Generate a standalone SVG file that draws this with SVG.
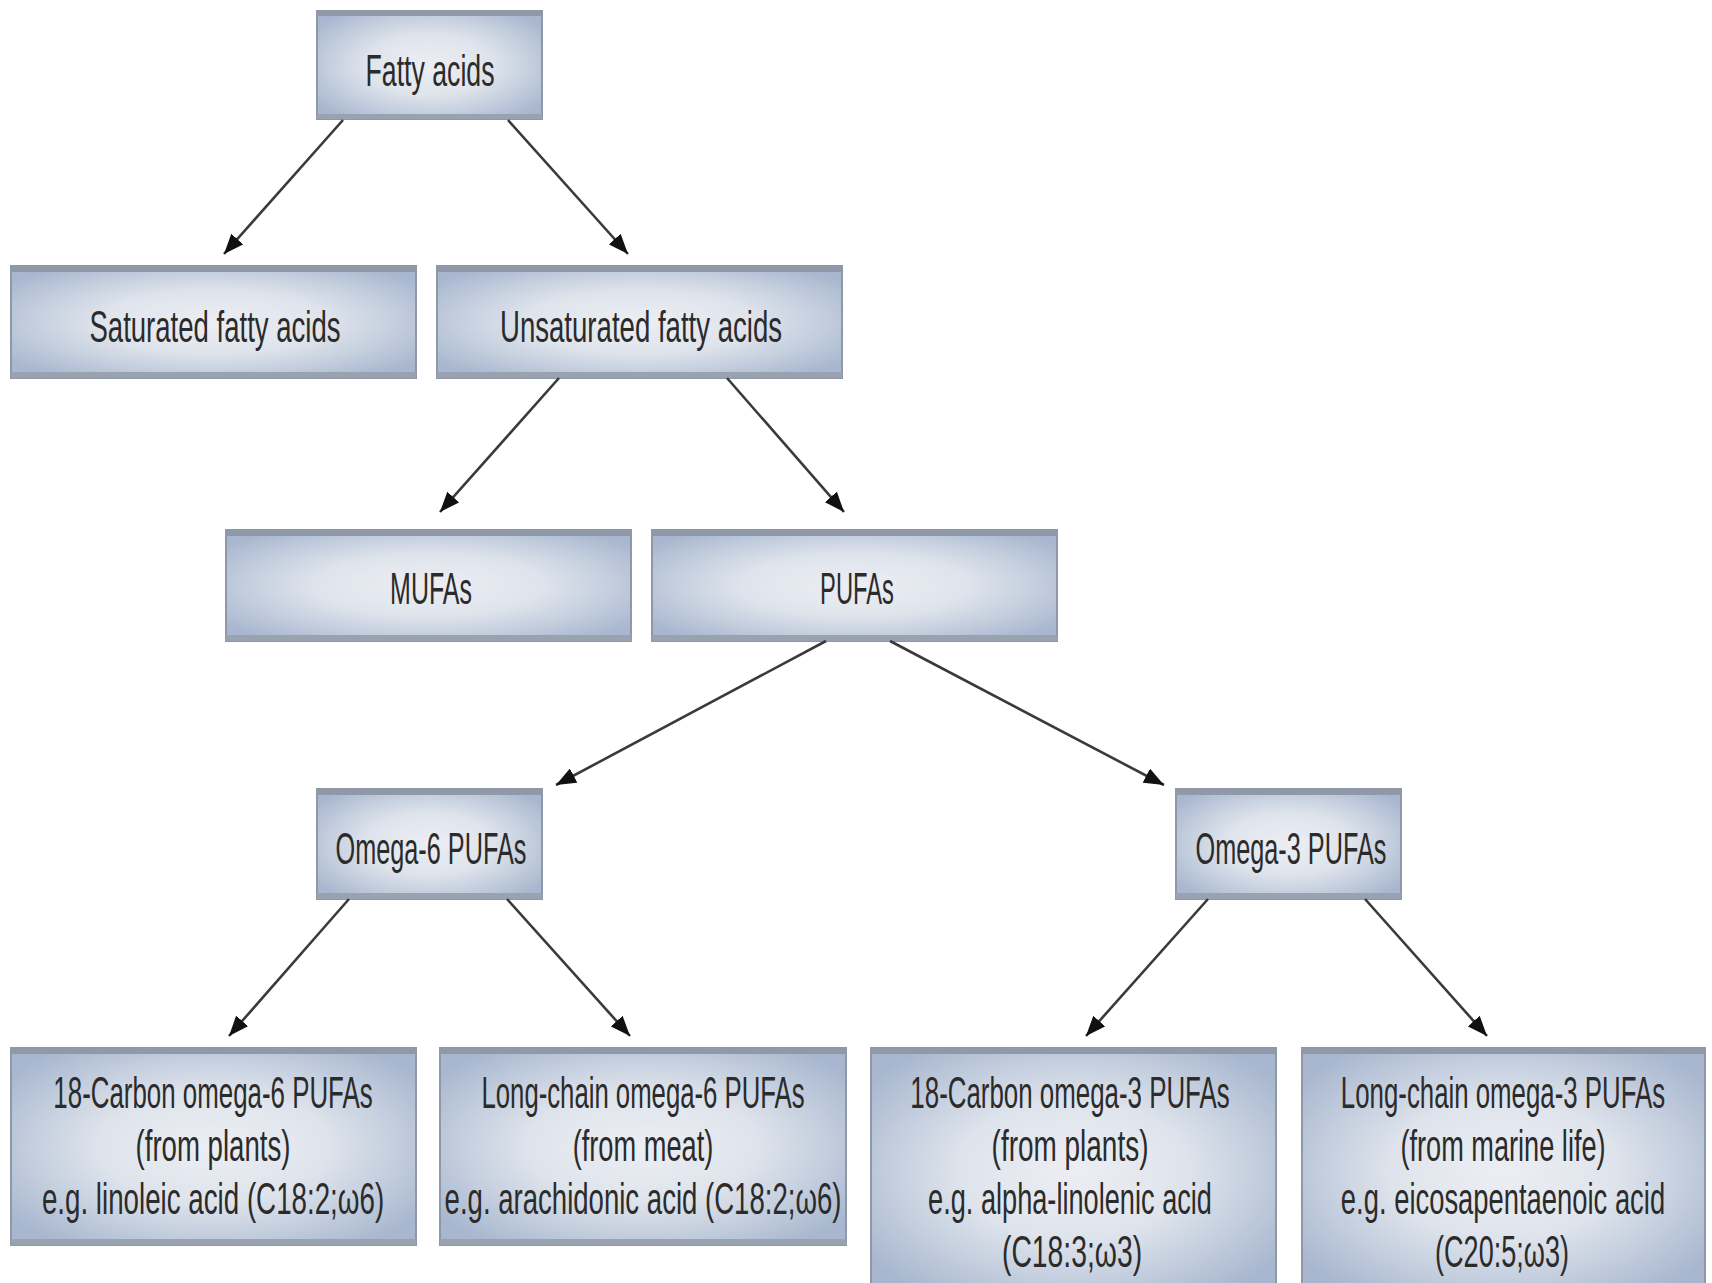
<svg xmlns="http://www.w3.org/2000/svg" width="1712" height="1283" viewBox="0 0 1712 1283">
<style>
.box{fill:url(#g);stroke:#8e98a6;stroke-width:2}
.bt{fill:#8f99a7}
.bb{fill:#99a2af}
.t{font-family:"Liberation Sans",Arial,sans-serif;font-size:45px;fill:#2b2b2b;text-anchor:middle}
.c{stroke:#3a3a3a;stroke-width:2.6;fill:none;marker-end:url(#ah)}
</style>
<defs>
<radialGradient id="g" cx="0.5" cy="0.5" r="0.62">
<stop offset="0" stop-color="#eceef3"/>
<stop offset="0.45" stop-color="#dfe4ec"/>
<stop offset="0.8" stop-color="#bcc8da"/>
<stop offset="1" stop-color="#a8b7cf"/>
</radialGradient>
<marker id="ah" markerWidth="20" markerHeight="16" refX="20" refY="8" orient="auto" markerUnits="userSpaceOnUse">
<path d="M0,0 L20,8 L0,16 Z" fill="#111"/>
</marker>
</defs>
<rect width="1712" height="1283" fill="#fff"/>

<g id="n-fatty">
<rect class="box" x="317" y="11" width="225" height="108"/>
<rect class="bt" x="317" y="11" width="225" height="5"/>
<rect class="bb" x="317" y="114" width="225" height="5"/>
<text class="t" transform="translate(430,86) scale(0.62,1)" textLength="208" lengthAdjust="spacingAndGlyphs">Fatty acids</text>
</g>
<g id="n-sat">
<rect class="box" x="11" y="266" width="405" height="112"/>
<rect class="bt" x="11" y="266" width="405" height="6"/>
<rect class="bb" x="11" y="372" width="405" height="6"/>
<text class="t" transform="translate(215,342) scale(0.62,1)" textLength="405" lengthAdjust="spacingAndGlyphs">Saturated fatty acids</text>
</g>
<g id="n-unsat">
<rect class="box" x="437" y="266" width="405" height="112"/>
<rect class="bt" x="437" y="266" width="405" height="6"/>
<rect class="bb" x="437" y="372" width="405" height="6"/>
<text class="t" transform="translate(641,342) scale(0.62,1)" textLength="455" lengthAdjust="spacingAndGlyphs">Unsaturated fatty acids</text>
</g>
<g id="n-mufa">
<rect class="box" x="226" y="530" width="405" height="111"/>
<rect class="bt" x="226" y="530" width="405" height="6"/>
<rect class="bb" x="226" y="635" width="405" height="6"/>
<text class="t" transform="translate(431,604) scale(0.62,1)" textLength="132" lengthAdjust="spacingAndGlyphs">MUFAs</text>
</g>
<g id="n-pufa">
<rect class="box" x="652" y="530" width="405" height="111"/>
<rect class="bt" x="652" y="530" width="405" height="6"/>
<rect class="bb" x="652" y="635" width="405" height="6"/>
<text class="t" transform="translate(857,604) scale(0.62,1)" textLength="119" lengthAdjust="spacingAndGlyphs">PUFAs</text>
</g>
<g id="n-o6">
<rect class="box" x="317" y="789" width="225" height="110"/>
<rect class="bt" x="317" y="789" width="225" height="6"/>
<rect class="bb" x="317" y="893" width="225" height="6"/>
<text class="t" transform="translate(431,864) scale(0.62,1)" textLength="308" lengthAdjust="spacingAndGlyphs">Omega-6 PUFAs</text>
</g>
<g id="n-o3">
<rect class="box" x="1176" y="789" width="225" height="110"/>
<rect class="bt" x="1176" y="789" width="225" height="6"/>
<rect class="bb" x="1176" y="893" width="225" height="6"/>
<text class="t" transform="translate(1291,864) scale(0.62,1)" textLength="308" lengthAdjust="spacingAndGlyphs">Omega-3 PUFAs</text>
</g>
<g id="n-c18w6">
<rect class="box" x="11" y="1048" width="405" height="197"/>
<rect class="bt" x="11" y="1048" width="405" height="6"/>
<rect class="bb" x="11" y="1239" width="405" height="6"/>
<text class="t" transform="translate(213,1108) scale(0.62,1)" textLength="515" lengthAdjust="spacingAndGlyphs">18-Carbon omega-6 PUFAs</text>
<text class="t" transform="translate(213,1161) scale(0.62,1)" textLength="250" lengthAdjust="spacingAndGlyphs">(from plants)</text>
<text class="t" transform="translate(213,1214) scale(0.62,1)" textLength="552" lengthAdjust="spacingAndGlyphs">e.g. linoleic acid (C18:2;ω6)</text>
</g>
<g id="n-lcw6">
<rect class="box" x="440" y="1048" width="406" height="197"/>
<rect class="bt" x="440" y="1048" width="406" height="6"/>
<rect class="bb" x="440" y="1239" width="406" height="6"/>
<text class="t" transform="translate(643,1108) scale(0.62,1)" textLength="521" lengthAdjust="spacingAndGlyphs">Long-chain omega-6 PUFAs</text>
<text class="t" transform="translate(643,1161) scale(0.62,1)" textLength="227" lengthAdjust="spacingAndGlyphs">(from meat)</text>
<text class="t" transform="translate(643,1214) scale(0.62,1)" textLength="640" lengthAdjust="spacingAndGlyphs">e.g. arachidonic acid (C18:2;ω6)</text>
</g>
<g id="n-c18w3">
<rect class="box" x="871" y="1048" width="405" height="245"/>
<rect class="bt" x="871" y="1048" width="405" height="6"/>
<text class="t" transform="translate(1070,1108) scale(0.62,1)" textLength="515" lengthAdjust="spacingAndGlyphs">18-Carbon omega-3 PUFAs</text>
<text class="t" transform="translate(1070,1161) scale(0.62,1)" textLength="253" lengthAdjust="spacingAndGlyphs">(from plants)</text>
<text class="t" transform="translate(1070,1214) scale(0.62,1)" textLength="458" lengthAdjust="spacingAndGlyphs">e.g. alpha-linolenic acid</text>
<text class="t" transform="translate(1072,1267) scale(0.62,1)" textLength="226" lengthAdjust="spacingAndGlyphs">(C18:3;ω3)</text>
</g>
<g id="n-lcw3">
<rect class="box" x="1302" y="1048" width="403" height="245"/>
<rect class="bt" x="1302" y="1048" width="403" height="6"/>
<text class="t" transform="translate(1503,1108) scale(0.62,1)" textLength="523" lengthAdjust="spacingAndGlyphs">Long-chain omega-3 PUFAs</text>
<text class="t" transform="translate(1503,1161) scale(0.62,1)" textLength="331" lengthAdjust="spacingAndGlyphs">(from marine life)</text>
<text class="t" transform="translate(1503,1214) scale(0.62,1)" textLength="523" lengthAdjust="spacingAndGlyphs">e.g. eicosapentaenoic acid</text>
<text class="t" transform="translate(1502,1267) scale(0.62,1)" textLength="216" lengthAdjust="spacingAndGlyphs">(C20:5;ω3)</text>
</g>

<g id="connectors">
<line class="c" x1="343" y1="120" x2="224" y2="254"/>
<line class="c" x1="508" y1="120" x2="628" y2="254"/>
<line class="c" x1="559" y1="378" x2="440" y2="512"/>
<line class="c" x1="727" y1="378" x2="844" y2="512"/>
<line class="c" x1="826" y1="641" x2="556" y2="785"/>
<line class="c" x1="890" y1="641" x2="1164" y2="785"/>
<line class="c" x1="349" y1="899" x2="229" y2="1036"/>
<line class="c" x1="507" y1="899" x2="630" y2="1036"/>
<line class="c" x1="1208" y1="899" x2="1086" y2="1036"/>
<line class="c" x1="1365" y1="899" x2="1487" y2="1036"/>
</g>
</svg>
